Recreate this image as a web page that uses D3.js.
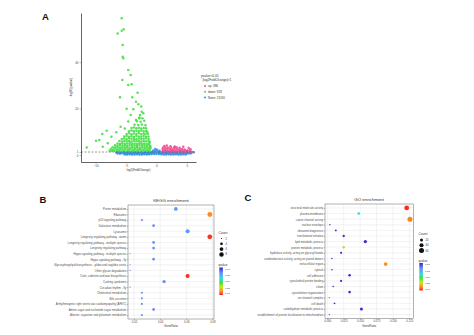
<!DOCTYPE html>
<html>
<head>
<meta charset="utf-8">
<script src="https://cdn.jsdelivr.net/npm/d3@7"></script>
<style>
  body { margin: 0; background: #fff; }
  svg { display: block; font-family: "Liberation Sans", Arial, sans-serif; }
</style>
</head>
<body>
<div id="chart"></div>
<script>
// ---------- Panel A: volcano plot, [log2FoldChange, -log10(pvalue)] ----------
const downPoints = [
  [-5.71,58.9],[-5.38,54.2],[-5.71,53.6],[-6.37,52.4],[-5.55,47.4],[-5.55,42.4],[-5.45,41.7],[-4.63,36.6],
  [-4.23,34.5],[-5.61,32.3],[-4.07,30.5],[-4.63,30.2],[-5.99,24.9],[-3.97,24.9],[-3.36,23.0],[-2.98,21.9],
  [-3.8,19.7],[-2.42,18.7],[-4.23,17.3],[-2.7,17.3],[-2.16,18.0],[-2.82,15.8],[-3.36,15.1],[-4.63,14.4],
  [-8.18,10.5],[-8.9,9.1],[-9.39,6.5],[-9.93,6.2],[-11.46,3.3],[-8.83,3.6],[-5.9,12.2],[-6.6,9.8],
  [-7.4,7.9],[-8.0,5.1],[-4.9,19.9],[-3.1,26.8],[-2.5,20.9],[-5.2,11.4],
  [-2.8,16.2],[-2.3,15.9],[-3.2,14.6],[-2.6,14.3],[-2.0,14.8],[-3.6,13.1],[-3.0,12.9],[-2.4,13.2],[-1.8,12.8],
  [-4.1,11.6],[-3.7,11.9],[-3.3,11.5],[-2.9,11.8],[-2.5,11.4],[-2.1,11.7],[-1.7,11.5],
  [-4.5,10.3],[-4.1,10.6],[-3.7,10.2],[-3.3,10.5],[-2.9,10.3],[-2.5,10.6],[-2.1,10.2],[-1.7,10.4],[-1.5,9.9],
  [-4.9,9.1],[-4.5,9.4],[-4.1,9.0],[-3.7,9.3],[-3.3,9.1],[-2.9,9.4],[-2.5,9.0],[-2.1,9.3],[-1.8,9.1],[-1.4,9.2],
  [-5.3,8.0],[-4.9,8.2],[-4.5,7.9],[-4.1,8.1],[-3.7,7.8],[-3.3,8.2],[-2.9,8.0],[-2.5,7.9],[-2.1,8.2],[-1.7,7.9],[-1.3,8.0],
  [-5.7,6.9],[-5.3,7.1],[-4.9,6.8],[-4.5,7.2],[-4.1,6.9],[-3.7,7.0],[-3.3,6.8],[-2.9,7.1],[-2.5,6.9],[-2.1,7.0],[-1.7,7.2],[-1.3,6.9],
  [-6.1,6.0],[-5.7,5.8],[-5.3,6.1],[-4.9,5.9],[-4.5,6.0],[-4.1,5.8],[-3.7,6.2],[-3.3,5.9],[-2.9,6.0],[-2.5,5.8],[-2.1,6.1],[-1.7,5.9],[-1.3,6.0],[-1.1,5.6],
  [-6.4,5.0],[-6.0,4.8],[-5.6,5.1],[-5.2,4.9],[-4.8,5.0],[-4.4,5.2],[-4.0,4.9],[-3.6,5.0],[-3.2,4.8],[-2.8,5.1],[-2.4,4.9],[-2.0,5.0],[-1.6,4.8],[-1.2,5.1],
  [-6.8,4.2],[-6.4,4.0],[-6.0,4.3],[-5.6,4.1],[-5.2,4.2],[-4.8,4.0],[-4.4,4.3],[-4.0,4.1],[-3.6,4.2],[-3.2,4.0],[-2.8,4.3],[-2.4,4.1],[-2.0,4.2],[-1.6,4.0],[-1.2,4.3],[-1.0,3.9],
  [-7.2,3.4],[-6.8,3.2],[-6.4,3.5],[-6.0,3.3],[-5.6,3.4],[-5.2,3.2],[-4.8,3.5],[-4.4,3.3],[-4.0,3.4],[-3.6,3.2],[-3.2,3.5],[-2.8,3.3],[-2.4,3.4],[-2.0,3.2],[-1.6,3.5],[-1.2,3.3],[-0.95,3.1],
  [-7.5,2.6],[-7.1,2.4],[-6.7,2.7],[-6.3,2.5],[-5.9,2.6],[-5.5,2.4],[-5.1,2.7],[-4.7,2.5],[-4.3,2.6],[-3.9,2.4],[-3.5,2.7],[-3.1,2.5],[-2.7,2.6],[-2.3,2.4],[-1.9,2.7],[-1.5,2.5],[-1.1,2.6],
  [-7.7,1.8],[-7.3,1.7],[-6.9,1.9],[-6.5,1.7],[-6.1,1.8],[-5.7,1.6],[-5.3,1.9],[-4.9,1.7],[-4.5,1.8],[-4.1,1.6],[-3.7,1.9],[-3.3,1.7],[-2.9,1.8],[-2.5,1.6],[-2.1,1.9],[-1.7,1.7],[-1.3,1.8],[-1.0,1.6]
];
const upPoints = [
  [1.3,3.9],[1.7,4.1],[2.3,3.8],[3.0,3.7],[4.4,3.6],
  [1.1,3.2],[1.5,3.3],[1.9,3.1],[2.4,3.3],[2.9,3.2],[3.3,3.4],[3.8,3.1],[5.3,3.0],
  [1.0,2.6],[1.4,2.5],[1.8,2.7],[2.2,2.6],[2.6,2.5],[3.0,2.7],[3.4,2.6],[3.8,2.5],[4.2,2.6],[4.6,2.4],[5.6,2.5],
  [1.1,2.0],[1.5,2.1],[1.9,1.9],[2.3,2.0],[2.7,2.1],[3.1,1.9],[3.5,2.0],[3.9,2.1],[4.3,1.9],[4.7,2.0],[5.1,2.1],[5.5,1.9],
  [1.0,1.5],[1.4,1.6],[1.8,1.5],[2.2,1.4],[2.6,1.6],[3.0,1.5],[3.4,1.4],[3.8,1.6],[4.2,1.5],[4.6,1.4],[5.0,1.6],[5.4,1.5],[5.8,1.4]
];
const nonePoints = [
  [-6.6,1.1],[-6.2,1.2],[-5.8,1.0],[-5.4,1.15],[-5.0,1.05],[-4.6,1.2],[-4.2,1.0],[-3.8,1.1],[-3.4,1.2],[-3.0,1.05],[-2.6,1.15],
  [-2.2,1.0],[-1.8,1.2],[-1.4,1.1],[-1.0,1.25],[-0.6,1.4],[-0.2,1.6],[0.2,1.5],[0.6,1.3],[1.0,1.1],[1.4,1.2],[1.8,1.0],
  [2.2,1.15],[2.6,1.05],[3.0,1.2],[3.4,1.0],[3.8,1.1],[4.2,1.2],[4.6,1.05],[5.0,1.15],[5.4,1.0],[5.8,1.1],[6.1,1.2],
  [-6.4,0.7],[-6.0,0.6],[-5.6,0.75],[-5.2,0.6],[-4.8,0.7],[-4.4,0.65],[-4.0,0.6],[-3.6,0.75],[-3.2,0.65],[-2.8,0.7],[-2.4,0.6],
  [-2.0,0.75],[-1.6,0.65],[-1.2,0.7],[-0.8,0.8],[-0.4,0.9],[0.0,0.95],[0.4,0.85],[0.8,0.7],[1.2,0.65],[1.6,0.75],[2.0,0.6],
  [2.4,0.7],[2.8,0.65],[3.2,0.75],[3.6,0.6],[4.0,0.7],[4.4,0.65],[4.8,0.6],[5.2,0.7],[5.6,0.65],
  [-5.2,0.25],[-4.8,0.2],[-4.4,0.3],[-4.0,0.25],[-3.6,0.2],[-3.2,0.3],[-2.8,0.25],[-2.4,0.2],[-2.0,0.3],[-1.6,0.25],[-1.2,0.35],
  [-0.8,0.4],[-0.4,0.45],[0.0,0.5],[0.4,0.4],[0.8,0.3],[1.2,0.25],[1.6,0.2],[2.0,0.3],[2.4,0.25],[2.8,0.2],[3.2,0.3],
  [3.6,0.25],[4.0,0.2],[4.4,0.3],[4.8,0.25],
  [-0.5,2.0],[0.1,2.3],[0.5,1.9],[-0.2,2.6]
];
const volcanoXTicks = [-10, -5, 0, 5];
const volcanoYTicks = [0, 1.3, 20, 40];
const volcanoTitle = ["pvalue<0.05", "|log2FoldChange|>1"];
const volcanoLegend = ["up: 386", "down: 928", "None: 21190"];

// ---------- Panel B: KEGG enrichment ----------
const keggTerms = [
  "Purine metabolism", "Ribosome", "p53 signaling pathway", "Galactose metabolism", "Lysosome",
  "Longevity regulating pathway - worm", "Longevity regulating pathway - multiple species",
  "Longevity regulating pathway", "Hippo signaling pathway - multiple species", "Hippo signaling pathway - fly",
  "Glycosphingolipid biosynthesis - globo and isoglobo series", "Other glycan degradation",
  "Cutin, suberine and wax biosynthesis", "Cushing syndrome", "Circadian rhythm - fly",
  "Cholesterol metabolism", "Bile secretion", "Arrhythmogenic right ventricular cardiomyopathy (ARVC)",
  "Amino sugar and nucleotide sugar metabolism", "Alanine, aspartate and glutamate metabolism"
];
const keggRatio = [0.052, 0.078, 0.026, 0.035, 0.061, 0.078, 0.035, 0.035, 0.017, 0.035,
                   0.017, 0.017, 0.061, 0.043, 0.017, 0.026, 0.026, 0.026, 0.035, 0.026];
const keggCount = [6, 9, 3, 4, 7, 9, 4, 4, 2, 4, 2, 2, 7, 5, 2, 3, 3, 3, 4, 3];
const keggQ = [0.78, 0.13, 0.8, 0.8, 0.78, 0.03, 0.8, 0.8, 0.8, 0.8,
               0.8, 0.8, 0.02, 0.79, 0.8, 0.8, 0.8, 0.8, 0.8, 0.8];
const keggXTicks = [0.02, 0.04, 0.06, 0.08];
const keggCountBreaks = [2, 4, 6, 8];

// ---------- Panel C: GO enrichment ----------
const goTerms = [
  "structural molecule activity", "plasma membrane", "cation channel activity", "nuclear envelope",
  "ribosome biogenesis", "translational initiation", "lipid metabolic process", "protein metabolic process",
  "hydrolase activity, acting on glycosyl bonds", "oxidoreductase activity, acting on paired donors",
  "extracellular region", "cytosol", "cell adhesion", "cytoskeletal protein binding", "cilium",
  "cytoskeleton organization", "ion channel complex", "cell death", "carbohydrate metabolic process",
  "establishment of protein localization to mitochondrion"
];
const goRatio = [0.121, 0.048, 0.126, 0.004, 0.013, 0.025, 0.058, 0.025, 0.021, 0.007,
                 0.089, 0.007, 0.034, 0.021, 0.009, 0.034, 0.003, 0.011, 0.052, 0.003];
const goCount = [55, 15, 60, 2, 6, 11, 25, 11, 9, 3, 32, 3, 14, 9, 4, 14, 1, 5, 20, 1];
const goQ = [0.02, 0.6, 0.12, 0.98, 0.98, 0.97, 0.98, 0.33, 0.98, 0.98,
             0.14, 0.98, 0.98, 0.98, 0.98, 0.98, 0.98, 0.98, 0.98, 0.98];
const goXTicks = [0, 0.025, 0.05, 0.075, 0.1, 0.125];
const goCountBreaks = [20, 40, 60];

const qTicks = [0.01, 0.25, 0.5, 0.75, 1];

// shared colour scale for qvalue (red = low, blue = high)
const qStops = [0, 0.13, 0.3, 0.45, 0.6, 0.8, 1];
const qColors = ["#ff1a1a", "#ff8c1a", "#c8e61a", "#33e633", "#33d9e6", "#6b8ff0", "#3320dd"];
const qColor = d3.scaleLinear().domain(qStops).range(qColors);

const width = 474, height = 335;
const svg = d3.select("#chart").append("svg")
  .attr("width", width)
  .attr("height", height);

svg.append("rect").attr("width", width).attr("height", height).attr("fill", "#fff");

function styleAxis(sel, fontSize) {
  sel.attr("font-size", fontSize).attr("font-family", null);
  sel.selectAll("text").attr("fill", "#4d4d4d");
  sel.selectAll(".tick line").attr("stroke", "#555").attr("stroke-width", 0.4);
}

function panelLabel(text, x, y) {
  svg.append("text")
    .attr("x", x).attr("y", y)
    .attr("font-size", 9.5)
    .attr("font-weight", "bold")
    .attr("fill", "#111")
    .text(text);
}

// ---------- draw A ----------
function drawVolcano() {
  const left = 81, right = 196, top = 13, bottom = 162;
  const x = d3.scaleLinear().domain([-12.4, 6.5]).range([left, right]);
  const y = d3.scaleLinear().domain([-3, 61.2]).range([bottom, top]);
  const g = svg.append("g");

  const groups = [
    { pts: nonePoints, color: "#2f8fe8" },
    { pts: downPoints, color: "#45df45" },
    { pts: upPoints, color: "#ee4f93" }
  ];
  groups.forEach(grp => {
    g.append("g").selectAll("circle")
      .data(grp.pts)
      .enter()
      .append("circle")
      .attr("cx", d => x(d[0]))
      .attr("cy", d => y(d[1]))
      .attr("r", 1.25)
      .attr("fill", grp.color)
      .attr("fill-opacity", 0.9);
  });

  // significance threshold
  g.append("line")
    .attr("x1", left).attr("x2", right)
    .attr("y1", y(1.3)).attr("y2", y(1.3))
    .attr("stroke", "#555")
    .attr("stroke-width", 0.6)
    .attr("stroke-dasharray", "2,1.5");

  const xAxis = d3.axisBottom(x).tickValues(volcanoXTicks).tickSize(1.5).tickSizeOuter(0).tickPadding(1);
  g.append("g").attr("transform", `translate(0,${bottom})`).call(xAxis)
    .call(s => styleAxis(s, 3))
    .select(".domain").attr("stroke", "#222").attr("stroke-width", 0.7);

  const yAxis = d3.axisLeft(y).tickValues(volcanoYTicks).tickSize(1.5).tickSizeOuter(0).tickPadding(1);
  g.append("g").attr("transform", `translate(${left},0)`).call(yAxis)
    .call(s => styleAxis(s, 3))
    .select(".domain").attr("stroke", "#222").attr("stroke-width", 0.7);

  g.append("text")
    .attr("x", (left + right) / 2).attr("y", 171)
    .attr("text-anchor", "middle").attr("font-size", 3).attr("fill", "#333")
    .text("log2(FoldChange)");
  g.append("text")
    .attr("transform", `translate(72,${(top + bottom) / 2}) rotate(-90)`)
    .attr("text-anchor", "middle").attr("font-size", 3).attr("fill", "#333")
    .text("-log10(pvalue)");

  // legend
  const lg = g.append("g").attr("transform", "translate(201,77)");
  lg.selectAll(".lt").data(volcanoTitle).enter().append("text")
    .attr("x", (d, i) => i * 1.5).attr("y", (d, i) => i * 4.2)
    .attr("font-size", 3.2).attr("fill", "#333")
    .text(d => d);
  const items = lg.selectAll(".li").data(volcanoLegend).enter().append("g")
    .attr("transform", (d, i) => `translate(0,${9 + i * 5.8})`);
  items.append("circle")
    .attr("cx", 4).attr("cy", 0).attr("r", 1)
    .attr("fill", (d, i) => ["#ee4f93", "#45df45", "#2f8fe8"][i]);
  items.append("text")
    .attr("x", 7).attr("y", 1.1)
    .attr("font-size", 3).attr("fill", "#333")
    .text(d => d);
}

// ---------- draw B / C dot plots ----------
let gradCount = 0;
function drawDotPanel(cfg) {
  const g = svg.append("g");
  const x = d3.scaleLinear().domain(cfg.xDomain).range([cfg.left, cfg.right]);
  const y = d3.scalePoint().domain(cfg.terms).range([cfg.top, cfg.bottom]).padding(0.7);
  const area = d3.scaleLinear().domain(cfg.countDomain).range(cfg.areaRange);
  const radius = c => Math.sqrt(area(c));

  // grid lines
  g.append("g").selectAll("line")
    .data(cfg.xTicks)
    .enter()
    .append("line")
    .attr("x1", d => x(d)).attr("x2", d => x(d))
    .attr("y1", cfg.top).attr("y2", cfg.bottom)
    .attr("stroke", "#e6e6e6").attr("stroke-width", 0.5);
  g.append("g").selectAll("line")
    .data(cfg.terms)
    .enter()
    .append("line")
    .attr("x1", cfg.left).attr("x2", cfg.right)
    .attr("y1", d => y(d)).attr("y2", d => y(d))
    .attr("stroke", "#e6e6e6").attr("stroke-width", 0.5);

  // points
  const rows = cfg.terms.map((t, i) => ({ term: t, ratio: cfg.ratio[i], count: cfg.count[i], q: cfg.q[i] }));
  g.append("g").selectAll("circle")
    .data(rows)
    .enter()
    .append("circle")
    .attr("cx", d => x(d.ratio))
    .attr("cy", d => y(d.term))
    .attr("r", d => radius(d.count))
    .attr("fill", d => qColor(d.q));

  g.append("rect")
    .attr("x", cfg.left).attr("y", cfg.top)
    .attr("width", cfg.right - cfg.left).attr("height", cfg.bottom - cfg.top)
    .attr("fill", "none").attr("stroke", "#666").attr("stroke-width", 0.5);

  const xAxis = d3.axisBottom(x).tickValues(cfg.xTicks).tickFormat(d3.format(cfg.fmt))
    .tickSize(1.2).tickPadding(0.8);
  g.append("g").attr("transform", `translate(0,${cfg.bottom})`).call(xAxis)
    .call(s => styleAxis(s, 2.8))
    .select(".domain").remove();

  const yAxis = d3.axisLeft(y).tickSize(1.2).tickPadding(0.6);
  g.append("g").attr("transform", `translate(${cfg.left},0)`).call(yAxis)
    .call(s => styleAxis(s, 2.8))
    .select(".domain").remove();

  g.append("text")
    .attr("x", (cfg.left + cfg.right) / 2).attr("y", cfg.top - 3)
    .attr("text-anchor", "middle").attr("font-size", 4.4).attr("fill", "#333")
    .text(cfg.title);
  g.append("text")
    .attr("x", (cfg.left + cfg.right) / 2).attr("y", cfg.bottom + 8.2)
    .attr("text-anchor", "middle").attr("font-size", 2.9).attr("fill", "#333")
    .text("GeneRatio");

  // size legend
  const lx = cfg.legendX;
  g.append("text").attr("x", lx).attr("y", cfg.countY).attr("font-size", 3.3).attr("fill", "#333").text("Count");
  const sz = g.append("g").selectAll("g")
    .data(cfg.countBreaks)
    .enter()
    .append("g")
    .attr("transform", (d, i) => `translate(${lx + 3},${cfg.countY + 5 + i * 5.3})`);
  sz.append("circle").attr("r", d => radius(d)).attr("fill", "#111");
  sz.append("text").attr("x", 4).attr("y", 1).attr("font-size", 2.7).attr("fill", "#333").text(d => d);

  // colour bar
  const id = "qgrad" + (gradCount++);
  const grad = svg.append("defs").append("linearGradient")
    .attr("id", id).attr("x1", 0).attr("x2", 0).attr("y1", 1).attr("y2", 0);
  grad.selectAll("stop").data(qStops).enter().append("stop")
    .attr("offset", d => d)
    .attr("stop-color", d => qColor(d));
  const barTop = cfg.barY, barBottom = cfg.barY + 27.5;
  g.append("text").attr("x", lx).attr("y", barTop - 1.3).attr("font-size", 3).attr("fill", "#333").text("qvalue");
  g.append("rect")
    .attr("x", lx + 0.8).attr("y", barTop)
    .attr("width", 3.6).attr("height", barBottom - barTop)
    .attr("fill", `url(#${id})`);
  const qs = d3.scaleLinear().domain([0, 1]).range([barBottom - 1.2, barTop + 1.5]);
  g.append("g").selectAll("text")
    .data(qTicks)
    .enter()
    .append("text")
    .attr("x", lx + 6.5).attr("y", d => qs(d) + 0.9)
    .attr("font-size", 2.5).attr("fill", "#333")
    .text(d => d3.format(".2f")(d));
}

drawVolcano();

drawDotPanel({
  title: "KEGG enrichment",
  terms: keggTerms, ratio: keggRatio, count: keggCount, q: keggQ,
  left: 128, right: 214, top: 205, bottom: 319,
  xDomain: [0.0154, 0.0812], xTicks: keggXTicks, fmt: ".2f",
  countDomain: [2, 9], areaRange: [0.36, 5.76], countBreaks: keggCountBreaks,
  legendX: 218.5, countY: 233.5, barY: 267.5
});

drawDotPanel({
  title: "GO enrichment",
  terms: goTerms, ratio: goRatio, count: goCount, q: goQ,
  left: 325, right: 413.3, top: 204, bottom: 318.5,
  xDomain: [-0.0035, 0.1311], xTicks: goXTicks, fmt: ".3f",
  countDomain: [1, 60], areaRange: [0.36, 6.25], countBreaks: goCountBreaks,
  legendX: 418.5, countY: 235, barY: 263
});

panelLabel("A", 42, 19.5);
panelLabel("B", 39.5, 202.5);
panelLabel("C", 244.5, 201);
</script>
</body>
</html>
